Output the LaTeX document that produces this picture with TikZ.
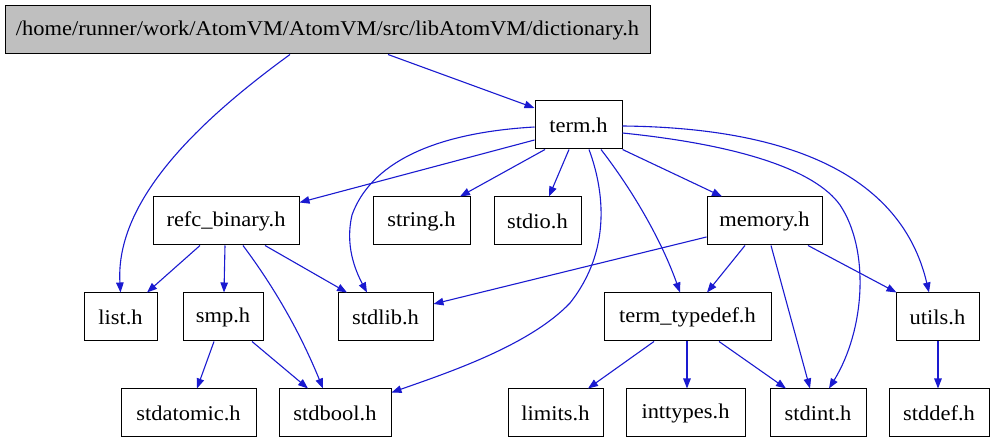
\documentclass[tikz,border=0pt]{standalone}
\usepackage{fontspec}
\setmainfont[FakeStretch=1.07]{Liberation Serif}
\usetikzlibrary{arrows.meta}
\definecolor{edgeblue}{RGB}{26,26,208}
\definecolor{rootgray}{RGB}{191,191,191}
\begin{document}
\begin{tikzpicture}[x=1pt,y=-1pt,
  box/.style={draw=black,line width=1pt,minimum height=48pt,inner sep=0pt,
    font=\fontsize{21}{25}\selectfont},
  dep/.style={draw=edgeblue,line width=1.1pt,-{Triangle[length=10pt,width=7.5pt]}}]
\useasboundingbox (0,0) rectangle (994,443);
% nodes
\node[box,fill=rootgray,minimum width=645pt] (root) at (327.5,30) {/home/runner/work/AtomVM/AtomVM/src/libAtomVM/dictionary.h};
\node[box,minimum width=87pt] (term) at (578.5,125) {term.h};
\node[box,minimum width=146pt] (refc) at (226,221) {refc\_binary.h};
\node[box,minimum width=97pt] (string) at (421.5,221) {string.h};
\node[box,minimum width=87pt] (stdio) at (537.5,221) {stdio.h};
\node[box,minimum width=115pt] (memory) at (764.5,221) {memory.h};
\node[box,minimum width=73pt] (list) at (120.5,317) {list.h};
\node[box,minimum width=80pt] (smp) at (223,317) {smp.h};
\node[box,minimum width=95pt] (stdlib) at (385.5,317) {stdlib.h};
\node[box,minimum width=167pt] (ttypedef) at (687.5,317) {term\_typedef.h};
\node[box,minimum width=83pt] (utils) at (937.5,317) {utils.h};
\node[box,minimum width=135pt] (stdatomic) at (188.5,413) {stdatomic.h};
\node[box,minimum width=112pt] (stdbool) at (335,413) {stdbool.h};
\node[box,minimum width=95pt] (limits) at (555.5,413) {limits.h};
\node[box,minimum width=119pt] (inttypes) at (685.5,413) {inttypes.h};
\node[box,minimum width=96pt] (stdint) at (818,413) {stdint.h};
\node[box,minimum width=100pt] (stddef) at (939,413) {stddef.h};
% edges
\draw[dep] ([xshift=-37.5pt]root.south) .. controls (200,120) and (115,200) .. (list.north);
\draw[dep] ([xshift=60.5pt]root.south) -- ([yshift=17pt]term.west);
\draw[dep] ([yshift=-15pt]term.west) -- ([yshift=-6pt]refc.north east);
\draw[dep] ([yshift=-2pt]term.west) .. controls (430,133) and (370,165) .. (352,215)
  .. controls (345,245) and (355,270) .. ([xshift=-18.5pt]stdlib.north);
\draw[dep] ([xshift=-33.5pt]term.south) -- ([xshift=38.5pt]string.north);
\draw[dep] ([xshift=-9.5pt]term.south) -- ([xshift=11.5pt]stdio.north);
\draw[dep] ([xshift=10.5pt]term.south) .. controls (604,190) and (612,250) .. (570,303)
  .. controls (530,345) and (450,372) .. ([yshift=-4pt]stdbool.north east);
\draw[dep] ([xshift=22.5pt]term.south) .. controls (640,200) and (665,250) .. ([xshift=-7.5pt]ttypedef.north);
\draw[dep] (term.south east) -- ([xshift=-42.5pt]memory.north);
\draw[dep] ([yshift=-8pt]term.east) .. controls (740,145) and (815,170) .. (840,205)
  .. controls (870,250) and (865,330) .. ([xshift=11pt]stdint.north);
\draw[dep] ([yshift=-1pt]term.east) .. controls (815,128) and (905,190) .. ([xshift=-8.5pt]utils.north);
\draw[dep] ([xshift=-26pt]refc.south) -- ([xshift=26.5pt]list.north);
\draw[dep] ([xshift=-1pt]refc.south) -- ([xshift=1pt]smp.north);
\draw[dep] ([xshift=17pt]refc.south) .. controls (265,275) and (295,320) .. ([xshift=-12pt]stdbool.north);
\draw[dep] ([xshift=39pt]refc.south) -- ([xshift=-38.5pt]stdlib.north);
\draw[dep] ([xshift=-9pt]smp.south) -- ([xshift=8.5pt]stdatomic.north);
\draw[dep] ([xshift=29pt]smp.south) -- ([xshift=-27pt]stdbool.north);
\draw[dep] ([yshift=-16pt]memory.west) -- ([yshift=13pt]stdlib.east);
\draw[dep] ([xshift=-19.5pt]memory.south) -- ([xshift=19.5pt]ttypedef.north);
\draw[dep] ([xshift=6.5pt]memory.south) -- ([xshift=-8pt]stdint.north);
\draw[dep] ([xshift=43.5pt]memory.south) -- ([xshift=1pt]utils.north west);
\draw[dep] ([xshift=-33.5pt]ttypedef.south) -- ([xshift=32.5pt]limits.north);
\draw[dep] ([xshift=-0.5pt]ttypedef.south) -- ([xshift=1.5pt]inttypes.north);
\draw[dep] ([xshift=31.5pt]ttypedef.south) -- ([xshift=-32pt]stdint.north);
\draw[dep] ([xshift=0.5pt]utils.south) -- ([xshift=-1pt]stddef.north);
\end{tikzpicture}
\end{document}
